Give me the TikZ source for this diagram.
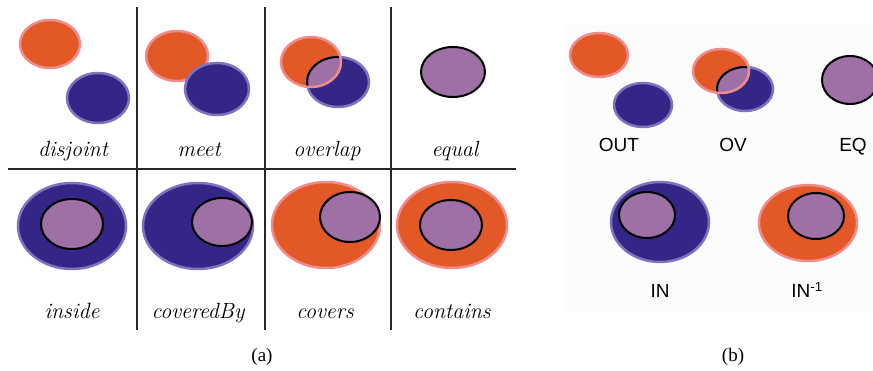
\documentclass[tikz,border=0pt]{standalone}
\usepackage{fontspec}
\newfontfamily\sansf{Liberation Sans}
\newfontfamily\serf{Liberation Serif}
\definecolor{orng}{RGB}{226,88,38}
\definecolor{pinkb}{RGB}{240,140,140}
\definecolor{indig}{RGB}{52,38,135}
\definecolor{lavb}{RGB}{125,115,190}
\definecolor{purp}{RGB}{158,112,166}
\definecolor{bgc}{RGB}{251,252,252}
\definecolor{gridc}{RGB}{40,40,40}
\tikzset{
  orngreg/.style={fill=orng,draw=pinkb,line width=2.5pt},
  bluereg/.style={fill=indig,draw=lavb,line width=2.5pt},
  innerreg/.style={fill=purp,draw=black,line width=2pt},
  gridline/.style={draw=gridc,line width=1.5pt},
  lbla/.style={anchor=base,font=\fontsize{22}{26}\selectfont\itshape},
  lblb/.style={anchor=base,font=\sansf\fontsize{19}{23}\selectfont},
  capt/.style={anchor=base,font=\serf\fontsize{19}{23}\selectfont}
}
\begin{document}
\begin{tikzpicture}[x=1pt,y=-1pt]
\useasboundingbox (0,0) rectangle (873,371);
\fill[bgc] (565,25) rectangle (873,312);
% ---------- panel (a) grid
\draw[gridline] (137,7) -- (137,330);
\draw[gridline] (265,7) -- (265,330);
\draw[gridline] (391,7) -- (391,330);
\draw[gridline] (8,169) -- (516,169);
% disjoint
\path[orngreg] (50,44) ellipse [x radius=30pt,y radius=24pt];
\path[bluereg] (98,98) ellipse [x radius=31pt,y radius=25pt];
\node[lbla] (ldis) at (73,157) {disjoint};
% meet
\path[orngreg] (177,56) ellipse [x radius=31pt,y radius=25pt];
\path[bluereg] (217,89) ellipse [x radius=32pt,y radius=26pt];
\node[lbla] (lmeet) at (199,157) {meet};
% overlap
\path[fill=orng] (311,62) ellipse [x radius=30pt,y radius=25pt];
\path[bluereg] (338,82) ellipse [x radius=31pt,y radius=25pt];
\begin{scope}
  \clip (311,62) ellipse [x radius=30pt,y radius=25pt];
  \fill[purp] (338,82) ellipse [x radius=31pt,y radius=25pt];
  \draw[black,line width=2pt] (338,82) ellipse [x radius=31pt,y radius=25pt];
\end{scope}
\draw[pinkb,line width=2.5pt] (311,62) ellipse [x radius=30pt,y radius=25pt];
\node[lbla] (lov) at (327,157) {overlap};
% equal
\path[innerreg] (453,72) ellipse [x radius=32pt,y radius=25pt];
\node[lbla] (leq) at (455,157) {equal};
% inside
\path[bluereg] (72,226) ellipse [x radius=54pt,y radius=43pt];
\path[innerreg] (72,224) ellipse [x radius=31pt,y radius=25pt];
\node[lbla] (lin) at (72,319) {inside};
% coveredBy
\path[bluereg] (198,226) ellipse [x radius=55pt,y radius=43pt];
\path[innerreg] (222,222) ellipse [x radius=30pt,y radius=24pt];
\node[lbla] (lcb) at (198,319) {coveredBy};
% covers
\path[orngreg] (326,225) ellipse [x radius=54pt,y radius=43pt];
\path[innerreg] (350,217) ellipse [x radius=30pt,y radius=25pt];
\node[lbla] (lcov) at (325,319) {covers};
% contains
\path[orngreg] (452,225) ellipse [x radius=55pt,y radius=43pt];
\path[innerreg] (451,225) ellipse [x radius=31pt,y radius=25pt];
\node[lbla] (lcon) at (452,319) {contains};
\node[capt] (capa) at (262,361) {(a)};
% ---------- panel (b)
% OUT
\path[orngreg] (599,55) ellipse [x radius=29pt,y radius=22pt];
\path[bluereg] (643,105) ellipse [x radius=29pt,y radius=22pt];
\node[lblb] (lout) at (619,152) {OUT};
% OV
\path[fill=orng] (721,71) ellipse [x radius=28pt,y radius=22pt];
\path[bluereg] (745,89) ellipse [x radius=28pt,y radius=22pt];
\begin{scope}
  \clip (721,71) ellipse [x radius=28pt,y radius=22pt];
  \fill[purp] (745,89) ellipse [x radius=28pt,y radius=22pt];
  \draw[black,line width=2pt] (745,89) ellipse [x radius=28pt,y radius=22pt];
\end{scope}
\draw[pinkb,line width=2.5pt] (721,71) ellipse [x radius=28pt,y radius=22pt];
\node[lblb] (lovb) at (733,152) {OV};
% EQ
\path[innerreg] (850,80) ellipse [x radius=28pt,y radius=24pt];
\node[lblb] (leqb) at (853,152) {EQ};
% IN
\path[bluereg] (660,222) ellipse [x radius=49pt,y radius=40pt];
\path[innerreg] (647,215) ellipse [x radius=28pt,y radius=23pt];
\node[lblb] (linb) at (660,298) {IN};
% IN^-1
\path[orngreg] (808,223) ellipse [x radius=49pt,y radius=38pt];
\path[innerreg] (816,216) ellipse [x radius=28pt,y radius=23pt];
\node[lblb] (linv) at (807,298) {IN\textsuperscript{-1}};
\node[capt] (capb) at (733,361) {(b)};
\end{tikzpicture}
\end{document}
